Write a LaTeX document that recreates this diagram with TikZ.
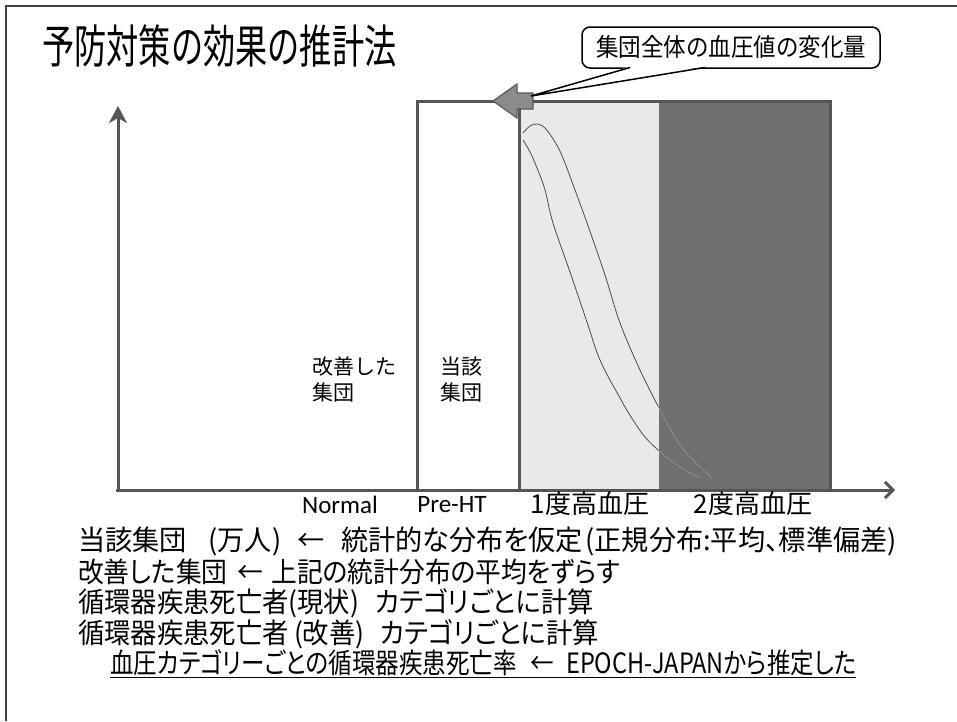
\documentclass[tikz,border=0pt]{standalone}
\usepackage{fontspec}
\setmainfont{Carlito}
\newfontfamily\jp{Noto Sans CJK JP}
\newfontfamily\jpp[RawFeature=+palt]{Noto Sans CJK JP}
\usetikzlibrary{arrows.meta}
\definecolor{axgray}{HTML}{555555}
\definecolor{lightfill}{HTML}{E9E9E9}
\definecolor{darkfill}{HTML}{6F6F6F}
\definecolor{arrgray}{HTML}{8C8C8C}
\definecolor{fainttrail}{HTML}{8E8E8E}
\newcommand{\sq}[2]{\scalebox{#1}[1]{#2}}
\begin{document}
\begin{tikzpicture}[x=1pt,y=-1pt,
  frameline/.style={line width=1.5pt, draw=black!75},
  barbox/.style={line width=3pt, draw=axgray},
  axisline/.style={line width=3pt, draw=axgray},
  curveline/.style={line width=0.8pt, draw=black!70},
  trailline/.style={line width=0.8pt, draw=fainttrail},
  grouplabel/.style={inner sep=0pt, align=left, anchor=north west, font=\jp\fontsize{21}{26}\selectfont},
  catlabel/.style={inner sep=0pt, anchor=center},
  bodyline/.style={inner sep=0pt, anchor=west, font=\jpp\fontsize{28}{32}\selectfont},
  calloutbox/.style={draw=black, line width=1.5pt, rounded corners=8pt, fill=white, minimum width=298pt, minimum height=41pt, inner sep=0pt}
]
\useasboundingbox (0,0) rectangle (957,721);
\fill[white] (0,0) rectangle (957,721);

% frame
\draw[frameline] (957,6) -- (6,6) -- (6,721);

% title
\node[anchor=base west, inner sep=0pt] (title) at (42,63) {\jp\fontsize{46}{52}\selectfont\sq{0.70}{予防対策の効果の推計法}};

% bars
\fill[darkfill] (659,101) rectangle (830,490);
\fill[lightfill] (521,103) rectangle (659,490);
\draw[barbox] (830,490) -- (830,101) -- (417,101) -- (417,490);
\draw[barbox] (519,101) -- (519,490);
\fill[white] (418.5,102.5) rectangle (517.5,488.5);

% curves in 1st-degree band
\draw[curveline] plot[smooth, tension=0.6] coordinates {(523,133) (530,126) (537,124) (545,128) (555,142) (563,158) (575,190) (587,223) (605,275) (620,323) (640,370) (658,406)};
\draw[curveline] plot[smooth, tension=0.6] coordinates {(523,140) (530,152) (537,168) (545,190) (553,223) (570,272) (587,322) (600,360) (620,398) (633,420) (645,437) (658,450)};
\draw[trailline] plot[smooth, tension=0.6] coordinates {(658,406) (668,425) (680,445) (695,462) (712,478)};
\draw[trailline] plot[smooth, tension=0.6] coordinates {(658,450) (670,460) (685,470) (700,478)};

% axes
\coordinate (origin) at (116,490);
\coordinate (ytop) at (118,106);
\coordinate (xend) at (895,490);
\draw[axisline, -{Stealth[length=17pt, width=18pt, inset=5pt]}] (118,491) -- (ytop);
\draw[axisline, -{Straight Barb[length=8pt, width=16pt]}] (origin) -- (xend);

% shift arrow
\draw[fill=arrgray, draw=black!65, line width=1.2pt, line join=miter] (493,101) -- (517,84) -- (517,93) -- (533,93) -- (533,109) -- (517,109) -- (517,118) -- cycle;
\coordinate (tip) at (531,96);

% callout
\node[calloutbox] (cb) at (731,47.5) {\jp\fontsize{25}{28}\selectfont\sq{0.90}{集団全体の血圧値の変化量}};
\fill[white] (630,66.5) -- (tip) -- (705,66.5) -- cycle;
\draw[line width=1.5pt, line join=miter] (630,67.5) -- (tip) -- (705,67.5);

% group labels
\node[grouplabel] (improved) at (312,357) {改善した\\集団};
\node[grouplabel] (current) at (440,357) {当該\\集団};

% category labels
\node[catlabel, font=\fontsize{25}{30}\selectfont] (normal) at (340,505) {Normal};
\node[catlabel, font=\fontsize{25}{30}\selectfont] (preht) at (452,505) {Pre-HT};
\node[catlabel, font=\jp\fontsize{26}{30}\selectfont] (deg1) at (590,504) {1度高血圧};
\node[catlabel, font=\jp\fontsize{26}{30}\selectfont] (deg2) at (753,504) {2度高血圧};

% body text
\node[bodyline] (l1) at (78,541) {\sq{0.97}{当該集団\hspace{0.8em}(万人)\hspace{0.6em}←\hspace{0.6em}統計的な分布を仮定\hspace{0.1em}(正規分布:平均、標準偏差)}};
\node[bodyline] (l2) at (78,572) {\sq{0.92}{改善した集団\hspace{0.4em}←\hspace{0.3em}上記の統計分布の平均をずらす}};
\node[bodyline] (l3) at (78,603) {\sq{0.94}{循環器疾患死亡者(現状)\hspace{0.6em}カテゴリごとに計算}};
\node[bodyline] (l4) at (78,634) {\sq{0.94}{循環器疾患死亡者\hspace{0.2em}(改善)\hspace{0.6em}カテゴリごとに計算}};
\node[bodyline] (l5) at (110,664) {\sq{0.84}{\underline{血圧カテゴリーごとの循環器疾患死亡率\hspace{0.6em}←\hspace{0.5em}EPOCH-JAPANから推定した}}};
\end{tikzpicture}
\end{document}
